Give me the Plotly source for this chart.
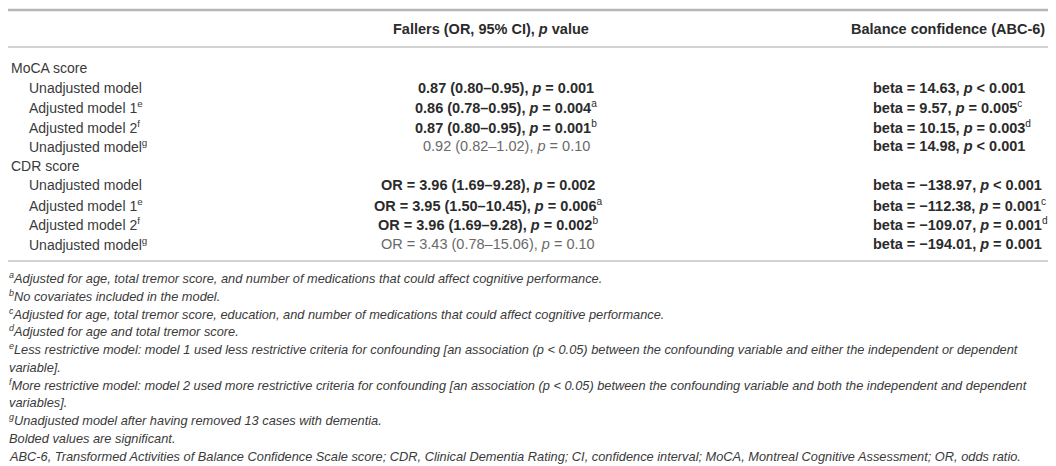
import plotly.graph_objects as go

# table content
groups = ["MoCA score", "CDR score"]
models = ["Unadjusted model", "Adjusted model 1", "Adjusted model 2", "Unadjusted model"]
model_marks = ["", "e", "f", "g"]

fallers_or = [[0.87, 0.86, 0.87, 0.92], [3.96, 3.95, 3.96, 3.43]]
fallers_ci_low = [[0.80, 0.78, 0.80, 0.82], [1.69, 1.50, 1.69, 0.78]]
fallers_ci_high = [[0.95, 0.95, 0.95, 1.02], [9.28, 10.45, 9.28, 15.06]]
fallers_p = [["0.001", "0.004", "0.001", "0.10"], ["0.002", "0.006", "0.002", "0.10"]]
fallers_marks = ["", "a", "b", ""]
fallers_sig = [[True, True, True, False], [True, True, True, False]]

balance_beta = [[14.63, 9.57, 10.15, 14.98], [-138.97, -112.38, -109.07, -194.01]]
balance_p = [["< 0.001", "= 0.005", "= 0.003", "< 0.001"],
             ["< 0.001", "= 0.001", "= 0.001", "= 0.001"]]
balance_marks = ["", "c", "d", ""]

footnotes = [
    "<sup>a</sup>Adjusted for age, total tremor score, and number of medications that could affect cognitive performance.",
    "<sup>b</sup>No covariates included in the model.",
    "<sup>c</sup>Adjusted for age, total tremor score, education, and number of medications that could affect cognitive performance.",
    "<sup>d</sup>Adjusted for age and total tremor score.",
    "<sup>e</sup>Less restrictive model: model 1 used less restrictive criteria for confounding [an association (p < 0.05) between the confounding variable and either the independent or dependent",
    "variable].",
    "<sup>f</sup>More restrictive model: model 2 used more restrictive criteria for confounding [an association (p < 0.05) between the confounding variable and both the independent and dependent",
    "variables].",
    "<sup>g</sup>Unadjusted model after having removed 13 cases with dementia.",
    "Bolded values are significant.",
    "ABC-6, Transformed Activities of Balance Confidence Scale score; CDR, Clinical Dementia Rating; CI, confidence interval; MoCA, Montreal Cognitive Assessment; OR, odds ratio.",
]

W, H = 1056, 466
FONT = "Liberation Sans"
DARK = "#2b2b2b"
LABEL = "#3a3a3a"
LIGHT = "#6a6a6a"

fig = go.Figure()
ann = []


def add(x, y, text, anchor="left", color=DARK, size=14):
    ann.append(dict(x=x, y=y, text=text, showarrow=False, xanchor=anchor, yanchor="middle",
                    borderpad=0, font=dict(family=FONT, size=size, color=color)))


def fmt(v):
    return f"{v:.2f}".replace("-", "\u2212")


# header
add(483, 21, "<b>Fallers (OR, 95% CI), <i>p</i> value</b>", anchor="center", size=14.5)
add(940, 21, "<b>Balance confidence (ABC-6)</b>", anchor="center", size=14.5)

fallers_x = [498, 480]  # centre of the odds-ratio text per group

y = 60
step = 19.5
for g, grp in enumerate(groups):
    add(2, y, grp, color=LABEL)
    y += step
    for i, m in enumerate(models):
        lab = m + (f"<sup>{model_marks[i]}</sup>" if model_marks[i] else "")
        add(20, y, lab, color=LABEL)

        prefix = "OR = " if g == 1 else ""
        txt = (f"{prefix}{fallers_or[g][i]:.2f} ({fallers_ci_low[g][i]:.2f}\u2013"
               f"{fallers_ci_high[g][i]:.2f}), <i>p</i> = {fallers_p[g][i]}")
        sup = f"<sup>{fallers_marks[i]}</sup>" if fallers_marks[i] else ""
        if fallers_sig[g][i]:
            add(fallers_x[g], y, f"<b>{txt}</b>{sup}", anchor="center", size=14.5)
        else:
            add(fallers_x[g], y, txt + sup, anchor="center", color=LIGHT, size=14.5)

        btxt = f"<b>beta = {fmt(balance_beta[g][i])}, <i>p</i> {balance_p[g][i]}</b>"
        bsup = f"<sup>{balance_marks[i]}</sup>" if balance_marks[i] else ""
        add(864, y, btxt + bsup, size=14.5)
        y += step

fy = 270
for line in footnotes:
    add(0, fy, f"<i>{line}</i>", color=LABEL, size=12.8)
    fy += 17.8

shapes = [
    dict(type="line", x0=0, x1=W, y0=2, y1=2, line=dict(color="#b5b5b5", width=2.5)),
    dict(type="line", x0=0, x1=W, y0=39, y1=39, line=dict(color="#a8a8a8", width=1.2)),
    dict(type="line", x0=0, x1=W, y0=253, y1=253, line=dict(color="#a8a8a8", width=1.2)),
]

fig.update_layout(
    width=W, height=H,
    margin=dict(l=0, r=0, t=0, b=0),
    paper_bgcolor="white", plot_bgcolor="white",
    xaxis=dict(range=[0, W], visible=False, fixedrange=True),
    yaxis=dict(range=[H, 0], visible=False, fixedrange=True),
    annotations=ann, shapes=shapes, showlegend=False,
)

fig.write_html("out.html")
